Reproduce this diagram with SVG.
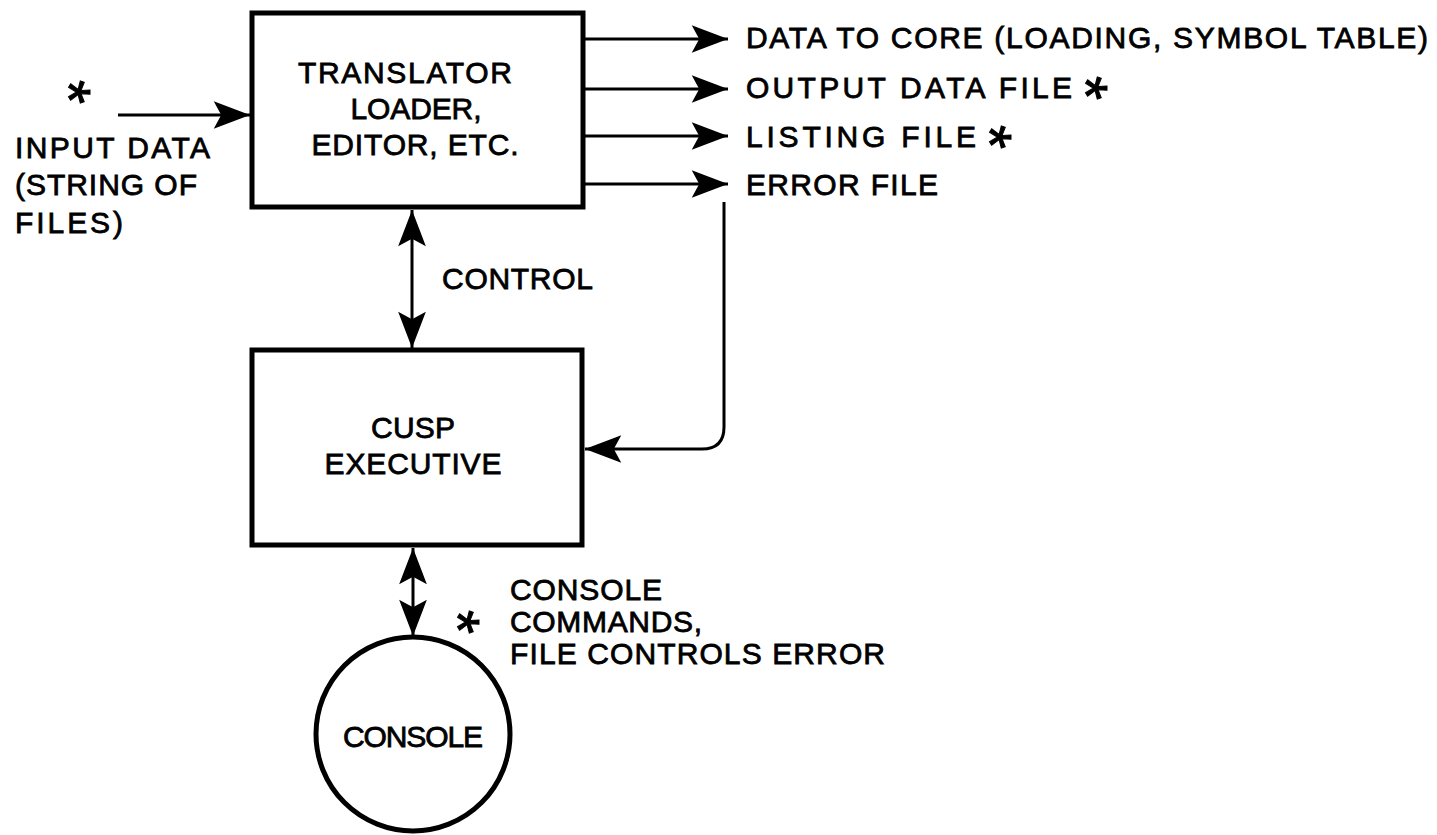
<svg xmlns="http://www.w3.org/2000/svg" width="1437" height="835" viewBox="0 0 1437 835">
<style>
text{font-family:"Liberation Sans",Arial,sans-serif;font-size:30px;fill:#000;stroke:#000;stroke-width:0.8}
.mid{text-anchor:middle}
.ast{font-size:62px;text-anchor:middle;stroke-width:1}
.box{fill:#fff;stroke:#000;stroke-width:5}
.wire{fill:none;stroke:#000;stroke-width:3}
</style>
<defs>
<marker id="ah" markerUnits="userSpaceOnUse" markerWidth="40" markerHeight="32" viewBox="-35 -15 37 30" refX="0" refY="0" orient="auto-start-reverse">
<path d="M0,0 L-34,-13 L-27,0 L-34,13 Z" fill="#000"/>
</marker>
</defs>
<rect width="1437" height="835" fill="#fff"/>
<g id="connectors">
<path class="wire" d="M118,115 L250,115" marker-end="url(#ah)"/>
<path class="wire" d="M585,39 L728,39" marker-end="url(#ah)"/>
<path class="wire" d="M585,89 L728,89" marker-end="url(#ah)"/>
<path class="wire" d="M585,136 L728,136" marker-end="url(#ah)"/>
<path class="wire" d="M585,184 L728,184" marker-end="url(#ah)"/>
<path class="wire" d="M412,210 L412,348" marker-start="url(#ah)" marker-end="url(#ah)"/>
<path class="wire" d="M724,202 L724,427 Q724,449 702,449 L585,449" marker-end="url(#ah)"/>
<path class="wire" d="M413,548 L413,636" marker-start="url(#ah)" marker-end="url(#ah)"/>
</g>
<g id="translator">
<rect class="box" x="252" y="13" width="331" height="194"/>
<text class="mid" x="405" y="83" textLength="214">TRANSLATOR</text>
<text class="mid" x="416" y="119" textLength="131">LOADER,</text>
<text class="mid" x="415" y="155" textLength="207">EDITOR, ETC.</text>
</g>
<g id="cusp">
<rect class="box" x="252" y="350" width="330" height="195"/>
<text class="mid" x="413" y="438" textLength="84">CUSP</text>
<text class="mid" x="413" y="474" textLength="177">EXECUTIVE</text>
</g>
<g id="console">
<circle class="box" cx="413" cy="734" r="97"/>
<text class="mid" x="413" y="747" textLength="140">CONSOLE</text>
</g>
<g id="labels">
<text class="ast" x="84" y="128" transform="rotate(90 84 92)">*</text>
<text x="15" y="158" textLength="195">INPUT DATA</text>
<text x="15" y="195" textLength="182">(STRING OF</text>
<text x="15" y="233" textLength="108">FILES)</text>
<text x="746" y="48" textLength="682">DATA TO CORE (LOADING, SYMBOL TABLE)</text>
<text x="746" y="98" textLength="326">OUTPUT DATA FILE</text>
<text class="ast" x="1101" y="124" transform="rotate(90 1101 88)">*</text>
<text x="746" y="147" textLength="230">LISTING FILE</text>
<text class="ast" x="1005" y="173" transform="rotate(90 1005 137)">*</text>
<text x="746" y="195" textLength="192">ERROR FILE</text>
<text x="442" y="289" textLength="151">CONTROL</text>
<text class="ast" x="473" y="658" transform="rotate(90 473 622)">*</text>
<text x="510" y="600" textLength="152">CONSOLE</text>
<text x="510" y="632" textLength="192">COMMANDS,</text>
<text x="510" y="664" textLength="375">FILE CONTROLS ERROR</text>
</g>
</svg>
